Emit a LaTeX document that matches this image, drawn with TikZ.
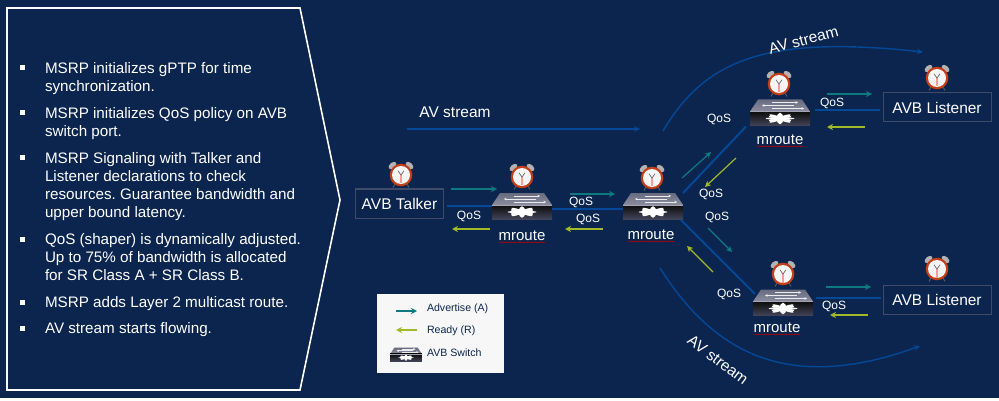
\documentclass[tikz,border=0pt]{standalone}
\usepackage{fontspec}
\setmainfont{Liberation Sans}
\usetikzlibrary{arrows.meta, decorations.pathmorphing}
\definecolor{themeNavy}{RGB}{12, 37, 78}
\definecolor{themeLink}{RGB}{4, 72, 152}
\definecolor{themeTeal}{RGB}{14, 122, 128}
\definecolor{themeLime}{RGB}{160, 186, 42}
\definecolor{themeEdge}{RGB}{62, 76, 106}
\definecolor{themeRim}{RGB}{196, 62, 24}
\definecolor{lidTop}{RGB}{104, 106, 126}
\definecolor{lidLow}{RGB}{140, 142, 160}
\definecolor{frontLow}{RGB}{66, 68, 88}
\newcommand{\bulletList}{%
    68/{MSRP initializes gPTP for time\\synchronization.},
    113/{MSRP initializes QoS policy on AVB\\switch port.},
    158/{MSRP Signaling with Talker and\\Listener declarations to check\\resources. Guarantee bandwidth and\\upper bound latency.},
    239/{QoS (shaper) is dynamically adjusted.\\Up to 75\% of bandwidth is allocated\\for SR Class A + SR Class B.},
    302/{MSRP adds Layer 2 multicast route.},
    328/{AV stream starts flowing.}%
}
\tikzset{
    clock/.pic={
        % bells, feet, then the dial
        \foreach \side in {-1,1} {
            \draw[gray!70!black, line width=1pt] (\side*6,9) -- (\side*8,12.5);
            \fill[gray!60, rotate around={-\side*40:(\side*8.5,-9.5)}] (\side*8.5,-9.5) ellipse (4.6 and 2.8);
        }
        \fill[themeRim] (0,0) circle (11.3);
        \fill[white!92!gray] (0,0) circle (9);
        \draw[red!40!white, line width=1.2pt] (0,0) -- (0,8.5);
        \draw[black!65, line width=.6pt] (-3,-4.2) -- (0,0) -- (3,-4.2);
    },
    avb switch/.pic={
        % lid with its traffic arrows, dark front and the white emblem
        \shade[top color=lidTop, bottom color=lidLow] (-22,-13) -- (22,-13) -- (30,-1) -- (-30,-1) -- cycle;
        \foreach \xa/\xb/\yy in {-8/18/-10, 14/-18/-7, -8/24/-4} {
            \draw[white!85!gray, line width=.6pt, -{Stealth[length=2.5pt, width=2.5pt]}] (\xa,\yy) -- (\xb,\yy);
        }
        \shade[top color=black!95, bottom color=frontLow] (-30,-1) rectangle (30,13);
        \draw[lidLow!80!white, line width=.4pt] (-30,-1) -- (30,-1);
        \begin{scope}[shift={(0,6)}]
            \foreach \ang in {0,45,90,135} {
                \fill[white, xscale=2.5, rotate=\ang] (0,0) ellipse (5.8 and 1.3);
            }
            \fill[white] (0,0) ellipse (5 and 3.2);
            \foreach \xa in {-8,8} {
                \foreach \yb in {-2,2} {
                    \fill[white] (\xa,\yb) ellipse (3.2 and 1.3);
                }
            }
        \end{scope}
    },
}
\begin{document}
\frenchspacing
\begin{tikzpicture}[
        x=1pt, y=-1pt,
        every node/.style={text=white, inner sep=0, outer sep=0},
        point/.style={align=left, anchor=north west, font=\fontsize{15.2}{18}\selectfont},
        box/.style={draw=themeEdge, line width=1pt, minimum height=29, font=\fontsize{15.5}{18}\selectfont},
        switch/.style={minimum width=60, minimum height=26},
        link/.style={themeLink, line width=2pt},
        stream/.style={themeLink, line width=1.4pt, -{Stealth[length=6pt, width=5.5pt]}},
        advertise/.style={themeTeal, line width=1.2pt, -{Stealth[length=6pt, width=6pt]}},
        ready/.style={themeLime, line width=1.2pt, -{Stealth[length=6pt, width=6pt]}},
        qos/.style={font=\fontsize{12}{14}\selectfont},
        avs/.style={font=\fontsize{15.5}{18}\selectfont},
        key/.style={text=themeNavy, anchor=west, font=\fontsize{10.6}{12}\selectfont},
        router/.style={font=\fontsize{15}{16}\selectfont},
        squiggle/.style={red!75!black, line width=.5pt, decorate, decoration={snake, amplitude=.5pt, segment length=2.4pt}},
    ]
    \useasboundingbox (0,0) rectangle (999,401);
    \fill[white] (0,0) rectangle (999,401);
    \fill[themeNavy] (0,0) rectangle (999,398);

    % left panel
    \draw[white, line width=1.6pt, fill=themeNavy] (7,8) -- (300,8) -- (340,200) -- (300,390) -- (7,390) -- cycle;
    \foreach \ypos/\txt [count=\n from 1] in \bulletList {
        \fill[white] (20,\ypos-2.5) rectangle (24.5,\ypos+2.5);
        \node[point] (point \n) at (45,\ypos-5.5) {\txt};
    }

    % talker, listeners
    \node[box, minimum width=88] (talker) at (399.5,203.5) {AVB Talker};
    \node[box, minimum width=108] (listener 1) at (937,107.5) {AVB Listener};
    \node[box, minimum width=108] (listener 2) at (937,300) {AVB Listener};

    % switches with their names
    \foreach \name/\xpos/\ypos/\xlab/\ylab in {sw 1/522/206/522/236, sw 2/653/206/651/235, sw 3/780/112.5/780/140, sw 4/783/302.5/777/328} {
        \node[switch] (\name) at (\xpos,\ypos) {};
        \pic at (\name) {avb switch};
        \node[router] (\name label) at (\xlab,\ylab) {mroute};
        \draw[squiggle] ([shift={(0,1.5)}]\name label.south west) -- ([shift={(0,1.5)}]\name label.south east);
    }

    % clocks
    \foreach \xpos/\ypos in {401/175, 522/177, 652/178, 779/84, 783/274, 937/78, 937/269} {
        \pic at (\xpos,\ypos) {clock};
    }

    % links
    \draw[link] ([shift={(3,2.5)}]talker.east) -- (sw 1.west);
    \draw[link] ([shift={(0,3)}]sw 1.east) -- ([shift={(0,3)}]sw 2.west);
    \draw[link] (sw 2.north east) -- ([shift={(-4,1)}]sw 3.south west);
    \draw[link] ([shift={(-2,1)}]sw 2.south east) -- ([shift={(2,4.5)}]sw 4.north west);
    \draw[link] ([shift={(5,-2.5)}]sw 3.east) -- ([shift={(-3,2.5)}]listener 1.west);
    \draw[link] ([shift={(3,-4.5)}]sw 4.east) -- ([shift={(-2,-2)}]listener 2.west);

    % streams
    \coordinate (stream in) at (407,129);
    \coordinate (stream out) at (640,129);
    \coordinate (stream up) at (663,131);
    \coordinate (stream up end) at (923,52);
    \coordinate (stream down) at (660,268);
    \coordinate (stream down end) at (920,346);
    \draw[stream] (stream in) -- (stream out);
    \draw[stream] (stream up) .. controls (705,60) and (765,35) .. (stream up end);
    \draw[stream] (stream down) .. controls (712,350) and (785,395) .. (stream down end);
    \node[avs] (av 1) at (455,112) {AV stream};
    \node[avs, rotate=15] (av 2) at (803.5,40) {AV stream};
    \node[avs, rotate=-37] (av 3) at (718,360) {AV stream};

    % signalling arrows
    \foreach \style/\xa/\ya/\xb/\yb [count=\n from 1] in {
        advertise/451/189/497/189,
        advertise/570/194/615/194,
        advertise/682/178/711/152,
        advertise/827/94/872/94,
        advertise/708/228/732/252,
        advertise/826/287/871/287,
        ready/490/229/452/229,
        ready/603/229/565/229,
        ready/736/158/705/187,
        ready/865/127/827/127,
        ready/713/272/687/246,
        ready/868/315/830/315} {
        \coordinate (from \n) at (\xa,\ya);
        \coordinate (to \n) at (\xb,\yb);
        \draw[\style] (from \n) -- (to \n);
    }

    \foreach \xpos/\ypos [count=\n from 1] in {469/216, 581/202, 588/219, 719/119, 832/103, 711/194, 717/217, 729/294, 834/306} {
        \node[qos] (qos \n) at (\xpos,\ypos) {QoS};
    }

    % legend
    \node[fill=white!94!gray, minimum width=127, minimum height=79] (legend) at (440.5,333.5) {};
    \coordinate (key a) at (396,311);
    \coordinate (key b) at (417,311);
    \coordinate (key c) at (417,330);
    \coordinate (key d) at (396,330);
    \draw[advertise] (key a) -- (key b);
    \draw[ready] (key c) -- (key d);
    \node[key] (key adv) at (427,309) {Advertise (A)};
    \node[key] (key rdy) at (427,331) {Ready (R)};
    \node[key] (key sw) at (427,353) {AVB Switch};
    \pic[scale=.53] at (406,354.5) {avb switch};
\end{tikzpicture}
\end{document}
